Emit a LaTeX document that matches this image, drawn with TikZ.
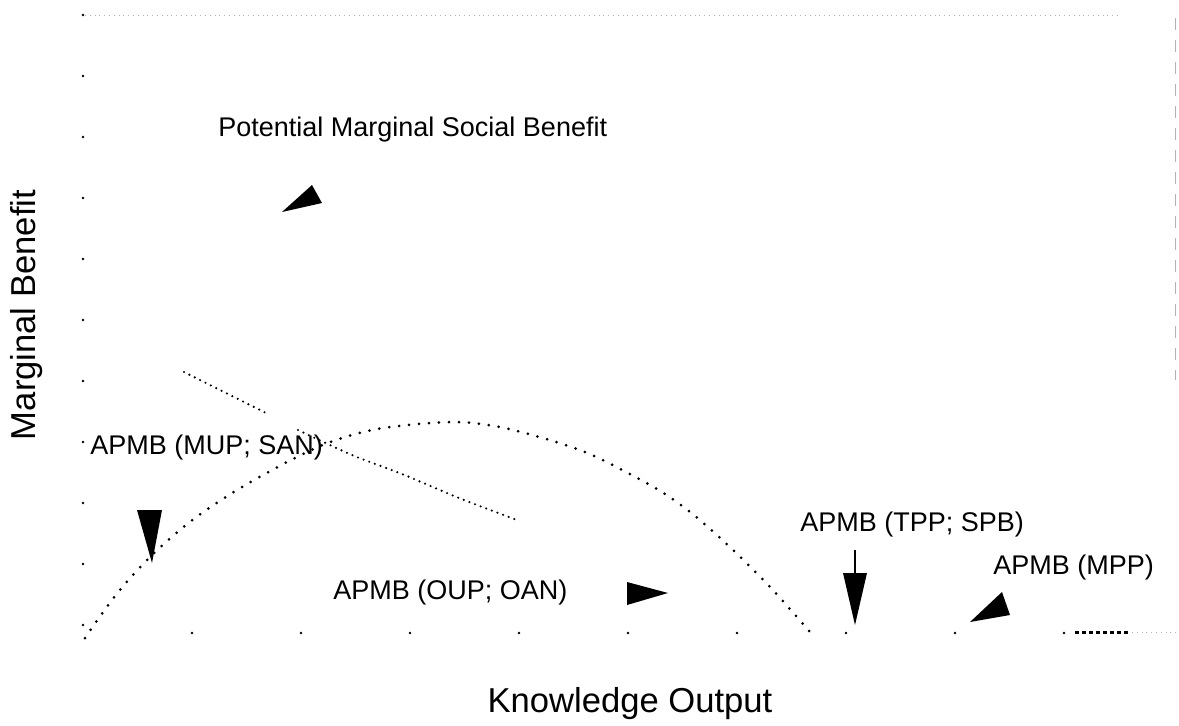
\documentclass[tikz,border=0pt]{standalone}
\usepackage{fontspec}
\setmainfont{Liberation Sans}

\tikzset{
  lbl/.style={font=\fontsize{13.5}{16}\selectfont, inner sep=0pt},
  axlbl/.style={font=\fontsize{17.3}{20}\selectfont, inner sep=0pt},
}

\begin{document}
\begin{tikzpicture}[x=0.5pt,y=-0.5pt]
	\useasboundingbox (0,0) rectangle (1179,725);

	% faint frame
	\draw [black!30, dotted] (85,15) -- (1120,15) ;
	\draw [black!30, dash pattern=on 6pt off 5pt] (1175,18) -- (1175,380) ;

	% ticks on the axes
	\foreach \y in {15,76,...,627}
		\fill (83,\y) circle [radius=1.3];
	\foreach \x in {192,301,...,1070}
		\fill (\x,633) circle [radius=1.3];

	% hump curve
	\draw [line width=1.5pt, line cap=round, dash pattern=on 0pt off 5pt]
		plot [smooth] coordinates {(85,638) (115,596) (149,558) (191,521) (237,490) (291,460)
		(333,441) (383,428) (455,422) (509,429) (585,452) (657,489) (695,516) (733,550)
		(771,588) (810,632)} ;

	% descending line
	\draw [line width=1.2pt, line cap=round, dash pattern=on 0pt off 3pt] (184,372) -- (268,414) ;
	\draw [line width=1.2pt, line cap=round, dash pattern=on 0pt off 3pt]
		plot [smooth] coordinates {(298,430) (352,455) (402,474) (459,498) (517,520)} ;

	% short dashes bottom right
	\draw [line width=1.5pt, dash pattern=on 2pt off 1.5pt] (1075,632) -- (1128,632) ;
	\draw [black!30, dotted] (1132,632) -- (1177,632) ;

	% arrowheads
	\fill (282,212) -- (312,185) -- (322,203) -- cycle ;
	\fill (152,563) -- (137,510) -- (162,510) -- cycle ;
	\fill (668,593) -- (627,582) -- (627,605) -- cycle ;
	\draw [line width=0.8pt] (855,550) -- (855,575) ;
	\fill (855,625) -- (843,573) -- (867,573) -- cycle ;
	\fill (970,622) -- (1002,592) -- (1010,615) -- cycle ;

	% labels
	\node [lbl, anchor=west] (pmsb) at (218,130) {Potential Marginal Social Benefit} ;
	\node [lbl, anchor=west] (mup) at (90,447) {APMB (MUP; SAN)} ;
	\node [lbl, anchor=west] (oup) at (333,592) {APMB (OUP; OAN)} ;
	\node [lbl, anchor=west] (tpp) at (800,525) {APMB (TPP; SPB)} ;
	\node [lbl, anchor=west] (mpp) at (993,568) {APMB (MPP)} ;

	% axis labels
	\node [axlbl] (xlab) at (630,704) {Knowledge Output} ;
	\node [axlbl, rotate=90] (ylab) at (27,315) {Marginal Benefit} ;

\end{tikzpicture}
\end{document}
